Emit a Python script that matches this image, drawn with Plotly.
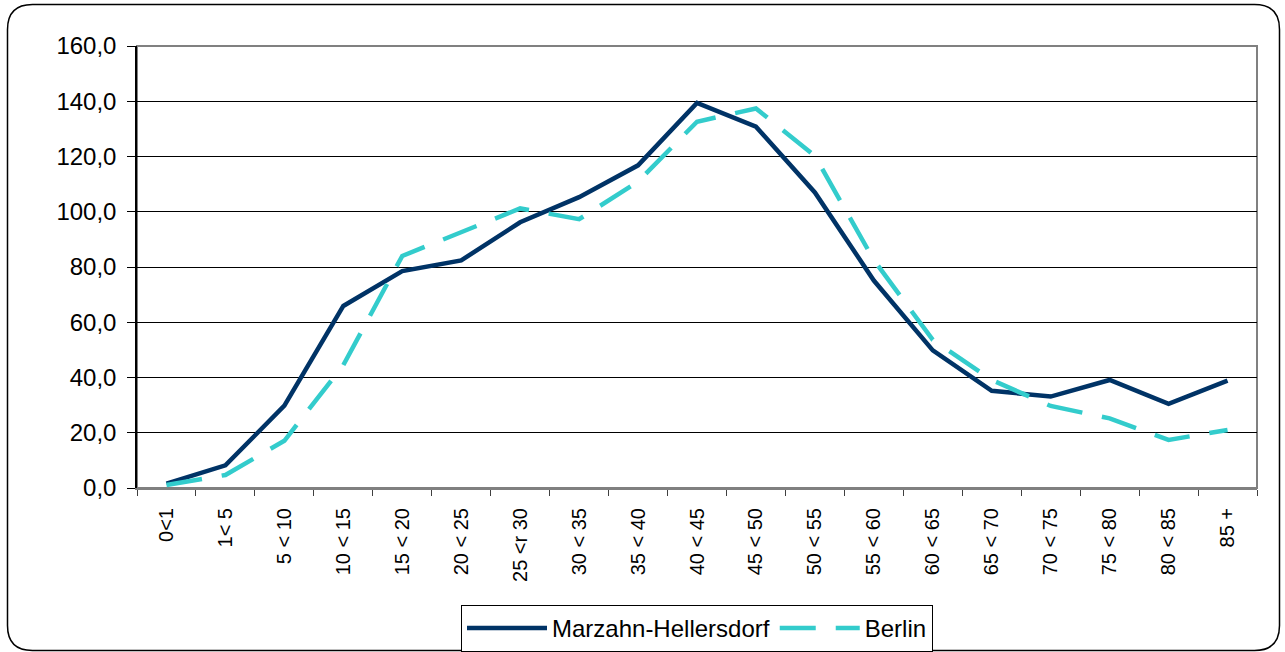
import plotly.graph_objects as go

categories = ["0<1", "1< 5", "5 < 10", "10 < 15", "15 < 20", "20 < 25", "25 <r 30",
              "30 < 35", "35 < 40", "40 < 45", "45 < 50", "50 < 55", "55 < 60",
              "60 < 65", "65 < 70", "70 < 75", "75 < 80", "80 < 85", "85 +"]
marzahn = [1.6, 8.2, 29.8, 65.9, 78.5, 82.4, 96.2, 105.3, 116.8, 139.4, 130.8,
           107.0, 75.1, 49.8, 35.2, 33.1, 39.1, 30.5, 38.9]
berlin = [1.1, 4.7, 17.1, 44.5, 84.0, 92.8, 101.2, 97.3, 110.9, 132.6, 137.4,
          120.2, 82.5, 53.6, 39.1, 29.7, 25.2, 17.4, 21.0]
y_ticks = [0, 20, 40, 60, 80, 100, 120, 140, 160]

W, H = 1285, 652
ML, MR, MT, MB = 137, 28, 46, 164
PW, PH = W - ML - MR, H - MT - MB


def px(x):
    return (x - ML) / PW


def py(y):
    return (H - MB - y) / PH


FONT = "Liberation Sans, Arial, sans-serif"

fig = go.Figure()
fig.add_trace(go.Scatter(x=categories, y=marzahn, mode="lines", name="Marzahn-Hellersdorf",
                         line=dict(color="#003366", width=4.5)))
fig.add_trace(go.Scatter(x=categories, y=berlin, mode="lines", name="Berlin",
                         line=dict(color="#33CCCC", width=4.5, dash="36px,20px")))

# outer rounded border
l, r, t, b, rad = 7.5, 1279.5, 4.5, 650.5, 25
path = (f"M{px(l + rad)},{py(t)} L{px(r - rad)},{py(t)} Q{px(r)},{py(t)} {px(r)},{py(t + rad)} "
        f"L{px(r)},{py(b - rad)} Q{px(r)},{py(b)} {px(r - rad)},{py(b)} "
        f"L{px(l + rad)},{py(b)} Q{px(l)},{py(b)} {px(l)},{py(b - rad)} "
        f"L{px(l)},{py(t + rad)} Q{px(l)},{py(t)} {px(l + rad)},{py(t)} Z")
fig.add_shape(type="path", path=path, xref="paper", yref="paper",
              line=dict(color="#000000", width=1.5), layer="above")
# plot area border
fig.add_shape(type="rect", xref="paper", yref="paper", x0=0, y0=0, x1=1, y1=1,
              line=dict(color="#808080", width=2), layer="below")

fig.update_layout(
    width=W, height=H,
    margin=dict(l=ML, r=MR, t=MT, b=MB, autoexpand=False),
    paper_bgcolor="white", plot_bgcolor="white",
    separators=", ",
    font=dict(family=FONT, color="#000000", size=24),
    showlegend=True,
    legend=dict(orientation="h", x=0.5, xanchor="center", y=py(605), yanchor="top",
                bordercolor="#000000", borderwidth=1, font=dict(size=24, family=FONT),
                itemwidth=80, tracegroupgap=0, bgcolor="white"),
)
fig.update_xaxes(type="category", range=[-0.5, len(categories) - 0.5], automargin=False,
                 showgrid=False, zeroline=False, showline=True, linecolor="#808080", linewidth=2,
                 ticks="outside", tickson="boundaries", ticklen=6, tickcolor="#404040",
                 tickangle=-90, ticklabelstandoff=10,
                 tickfont=dict(size=20, family=FONT, color="#000000"))
fig.update_yaxes(range=[0, 160], tickvals=y_ticks, tickformat=".1f", automargin=False,
                 showgrid=True, gridcolor="#000000", gridwidth=1, zeroline=False,
                 showline=True, linecolor="#000000", linewidth=1.5,
                 ticks="outside", ticklen=8, tickcolor="#000000", ticklabelstandoff=6,
                 tickfont=dict(size=24, family=FONT, color="#000000"))

fig.write_html("out.html", config={"displayModeBar": False},
               post_script="document.body.style.margin='0px';document.body.style.overflow='hidden';")
